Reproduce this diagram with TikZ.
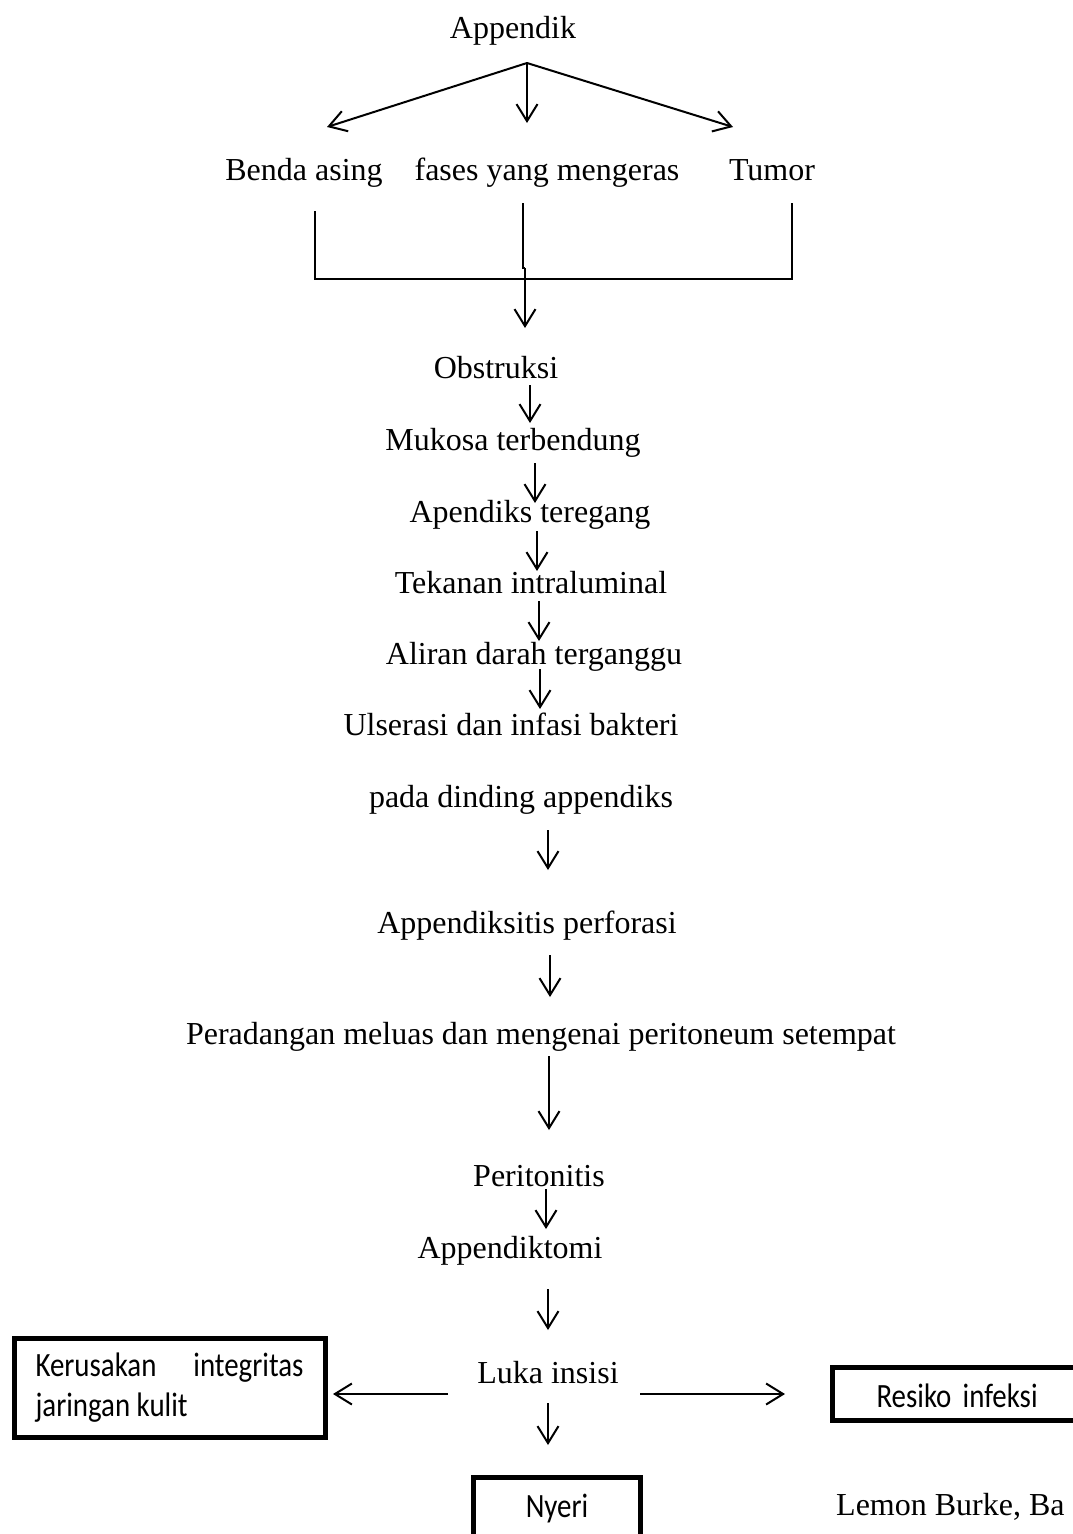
\documentclass[tikz,border=0pt]{standalone}
\usepackage{fontspec}
\setmainfont{Liberation Serif}
\newfontfamily\calfont[FakeStretch=0.85]{Carlito}
\usetikzlibrary{arrows.meta}
\begin{document}
\begin{tikzpicture}[x=1pt,y=-1pt,
  lbl/.style={font=\fontsize{32}{38}\selectfont, inner sep=0pt, anchor=base},
  arr/.style={line width=2pt, -{Straight Barb[length=17pt,width=21pt,line width=2pt]}},
  ln/.style={line width=2pt},
  box/.style={draw, line width=5pt, font=\calfont\fontsize{34}{40}\selectfont}]
\useasboundingbox (0,0) rectangle (1073,1534);
\clip (0,0) rectangle (1073,1534);
\fill[white] (0,0) rectangle (1073,1534);

% text nodes
\node[lbl] (app) at (513,38) {Appendik};
\node[lbl] (benda) at (304,180) {Benda asing};
\node[lbl] (fases) at (547,180) {fases yang mengeras};
\node[lbl] (tumor) at (772,180) {Tumor};
\node[lbl] (obs) at (496,378) {Obstruksi};
\node[lbl] (muk) at (513,450) {Mukosa terbendung};
\node[lbl] (ape) at (530,522) {Apendiks teregang};
\node[lbl] (tek) at (531,593) {Tekanan intraluminal};
\node[lbl] (ali) at (534,664) {Aliran darah terganggu};
\node[lbl] (uls) at (511,735) {Ulserasi dan infasi bakteri};
\node[lbl] (pad) at (521,807) {pada dinding appendiks};
\node[lbl] (per) at (527,933) {Appendiksitis perforasi};
\node[lbl] (prd) at (541,1044) {Peradangan meluas dan mengenai peritoneum setempat};
\node[lbl] (pit) at (539,1186) {Peritonitis};
\node[lbl] (apt) at (510,1258) {Appendiktomi};
\node[lbl] (luk) at (548,1383) {Luka insisi};
\node[lbl, anchor=base west] (lem) at (836,1515) {Lemon Burke, Ba};

% boxes
\node[box, anchor=north west, text width=268pt, align=justify, inner xsep=21.5pt, inner ysep=0pt,
      minimum height=99pt] (ker) at (11.5,1335.5)
  {Kerusakan integritas jaringan kulit};
\node[box, anchor=north west, text width=230pt, align=left, inner xsep=44.5pt,
      text height=35.5pt, text depth=7.5pt, inner ysep=5pt] (res) at (829.5,1364.5)
  {Resiko infeksi};
\node[box, anchor=north, minimum width=167pt, text height=35.5pt, text depth=40pt, inner ysep=5pt] (nye) at (557,1474.5)
  {Nyeri};

% top fan-out
\coordinate (t0) at (527,63);
\coordinate (tl) at (327,127);
\coordinate (tm) at (527,123);
\coordinate (tr) at (733,127);
\draw[arr] (t0) -- (tl);
\draw[arr] (t0) -- (tm);
\draw[arr] (t0) -- (tr);

% bracket
\coordinate (bl) at (315,211);
\coordinate (bm) at (523,203);
\coordinate (br) at (792,203);
\coordinate (bj) at (523,268);
\coordinate (bk) at (525,268);
\coordinate (bo) at (525,328);
\draw[ln] (bl) |- (br |- 0,279) -- (br);
\draw[ln] (bm) -- (bj) -- (bk);
\draw[arr] (bk) -- (bo);

% vertical chain
\foreach \n/\x/\ya/\yb in {a/530/385/423, b/535/463/503, c/537/531/571, d/539/601/641, e/540/669/709, f/548/830/870, g/550/955/997, h/549/1056/1130, i/546/1189/1229, j/548/1289/1330, k/548/1403/1445}{
  \coordinate (s\n) at (\x,\ya);
  \coordinate (e\n) at (\x,\yb);
  \draw[arr] (s\n) -- (e\n);
}

% side arrows
\coordinate (ls) at (448,1394);
\coordinate (le) at (333,1394);
\coordinate (rs) at (640,1394);
\coordinate (re) at (785,1394);
\draw[arr] (ls) -- (le);
\draw[arr] (rs) -- (re);
\end{tikzpicture}
\end{document}
